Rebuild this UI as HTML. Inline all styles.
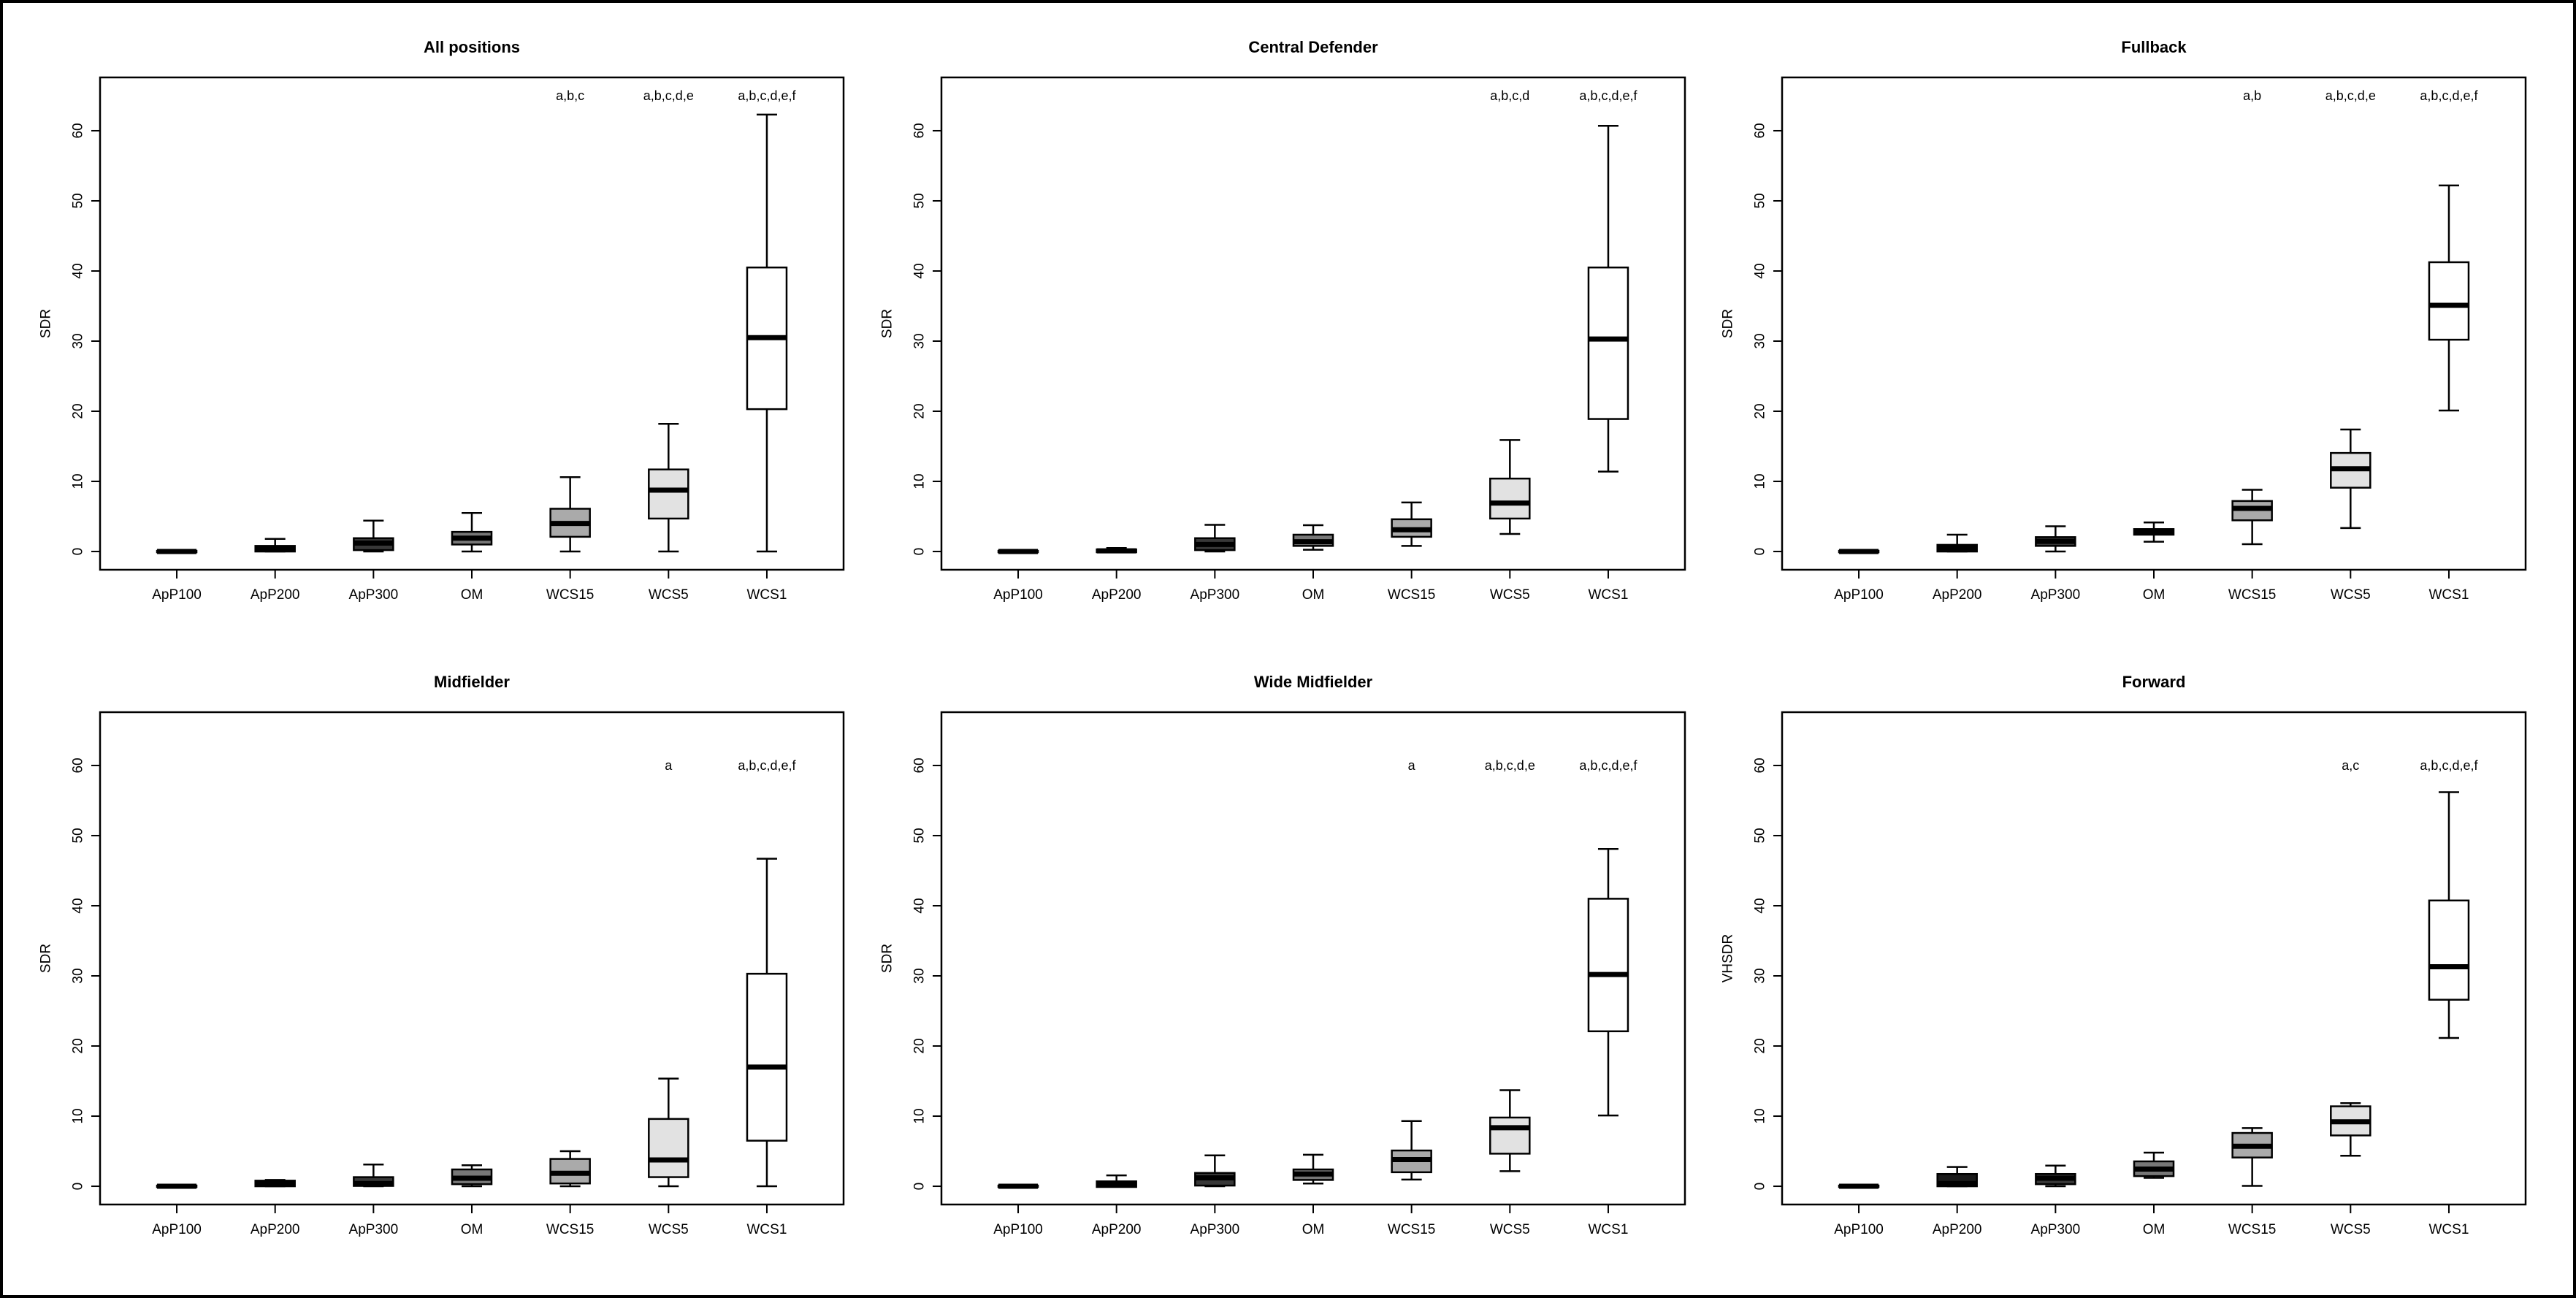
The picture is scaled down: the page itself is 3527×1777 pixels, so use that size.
<!DOCTYPE html>
<html><head><meta charset="utf-8"><style>
html,body{margin:0;padding:0;background:#fff}
svg{display:block}
text{font-family:"Liberation Sans",sans-serif;fill:#000}
</style></head><body>
<svg id="chart" width="3527" height="1777" viewBox="0 0 3527 1777" xmlns="http://www.w3.org/2000/svg">
<rect x="2" y="2" width="3523" height="1773" fill="#fff" stroke="#000" stroke-width="4"/>
</svg>
<script>
const categories = ["ApP100","ApP200","ApP300","OM","WCS15","WCS5","WCS1"];
const panelTitles = ["All positions","Central Defender","Fullback","Midfielder","Wide Midfielder","Forward"];
const yAxisTitles = ["SDR","SDR","SDR","SDR","SDR","VHSDR"];
const yTicks = [0,10,20,30,40,50,60];
const fills = ["#1e1e1e","#1a1a1a","#383838","#777777","#aaaaaa","#e2e2e2","#ffffff"];
// per panel: [low whisker, q1, median, q3, high whisker] per category
const allPositions = [[0,-0.1,0,0.1,0.1],[0,0,0.4,0.8,1.8],[0,0.2,1.2,1.9,4.4],[0,1.0,1.9,2.8,5.5],[0,2.1,4.0,6.1,10.6],[0,4.7,8.75,11.7,18.2],[0,20.3,30.5,40.5,62.3]];
const centralDefender = [[0,-0.1,0,0.1,0.1],[0,-0.1,0.1,0.3,0.5],[0,0.2,1.0,1.9,3.8],[0.25,0.8,1.4,2.4,3.75],[0.8,2.1,3.1,4.6,7.0],[2.5,4.7,6.9,10.4,15.9],[11.4,18.9,30.3,40.5,60.7]];
const fullback = [[0,-0.1,0,0.1,0.1],[0,0,0.5,0.95,2.4],[0,0.8,1.45,2.05,3.6],[1.4,2.4,2.8,3.2,4.15],[1.05,4.45,6.15,7.2,8.8],[3.35,9.1,11.8,14.05,17.4],[20.1,30.2,35.1,41.25,52.2]];
const midfielder = [[0,-0.1,0,0.1,0.1],[0,0,0.4,0.8,0.9],[0,0.05,0.4,1.3,3.1],[0,0.3,1.15,2.4,3.0],[0,0.4,1.85,3.9,5.0],[0,1.3,3.75,9.6,15.35],[0,6.5,17.0,30.3,46.7]];
const wideMidfielder = [[0,-0.1,0,0.1,0.1],[0,-0.1,0.35,0.7,1.55],[0,0.1,1.2,1.9,4.4],[0.4,0.9,1.75,2.4,4.5],[0.95,2.0,3.8,5.1,9.3],[2.15,4.65,8.35,9.8,13.7],[10.1,22.1,30.2,41.0,48.1]];
const forward = [[0,-0.1,0,0.1,0.1],[0,0,0.4,1.75,2.75],[0,0.3,1.15,1.75,2.95],[1.2,1.45,2.45,3.55,4.8],[0.05,4.1,5.7,7.6,8.3],[4.35,7.25,9.2,11.4,11.85],[21.15,26.6,31.3,40.75,56.2]];
const annotations1 = ["","","","","a,b,c","a,b,c,d,e","a,b,c,d,e,f"];
const annotations2 = ["","","","","","a,b,c,d","a,b,c,d,e,f"];
const annotations3 = ["","","","","a,b","a,b,c,d,e","a,b,c,d,e,f"];
const annotations4 = ["","","","","","a","a,b,c,d,e,f"];
const annotations5 = ["","","","","a","a,b,c,d,e","a,b,c,d,e,f"];
const annotations6 = ["","","","","","a,c","a,b,c,d,e,f"];
const annotationLevels = [65,65,65,60,60,60];

const panelData = [allPositions,centralDefender,fullback,midfielder,wideMidfielder,forward];
const panelAnn = [annotations1,annotations2,annotations3,annotations4,annotations5,annotations6];

const svg = document.getElementById('chart');
const NS = 'http://www.w3.org/2000/svg';
function mk(tag, attrs, parent){const e=document.createElementNS(NS,tag);for(const k in attrs)e.setAttribute(k,attrs[k]);(parent||svg).appendChild(e);return e;}

const boxW = 1018, boxH = 674;
const lefts = [137,1289,2440];
const tops = [106,975];
const yMin = -2.6, yMax = 67.6;

panelData.forEach((data, p) => {
  const L = lefts[p%3], T = tops[Math.floor(p/3)], B = T + boxH;
  const g = mk('g', {});
  
  
  const x = i => L + boxW * ((i + 1) - 0.5 + 0.28) / 7.56;
  const y = v => B - (v - yMin) / (yMax - yMin) * boxH;

  const t = mk('text', {x: L + boxW/2, y: T - 34, 'text-anchor':'middle', 'font-size':22, 'font-weight':'bold'}, g);
  t.textContent = panelTitles[p];
  
  

  const ya = mk('g', {}, g);
  
  
  yTicks.forEach(v => {
    mk('line', {x1: L, x2: L-12, y1: y(v), y2: y(v), stroke:'#000', 'stroke-width':2}, ya);
    const tl = mk('text', {x: L-30, y: y(v), 'text-anchor':'middle', 'dominant-baseline':'central', 'font-size':19, transform:`rotate(-90 ${L-30} ${y(v)})`}, ya);
    tl.textContent = v;
    
    
  });
  const cy = (T+B)/2;
  const yt = mk('text', {x: L-74, y: cy, 'text-anchor':'middle', 'dominant-baseline':'central', 'font-size':19, transform:`rotate(-90 ${L-74} ${cy})`}, ya);
  yt.textContent = yAxisTitles[p];
  
  

  data.forEach((d, i) => {
    const cx = x(i), hw = 27, cw = 14;
    const bg = mk('g', {}, g);
    
    
    mk('line', {x1:cx, x2:cx, y1:y(d[0]), y2:y(d[1]), stroke:'#000','stroke-width':2.5}, bg);
    mk('line', {x1:cx, x2:cx, y1:y(d[3]), y2:y(d[4]), stroke:'#000','stroke-width':2.5}, bg);
    mk('line', {x1:cx-cw, x2:cx+cw, y1:y(d[0]), y2:y(d[0]), stroke:'#000','stroke-width':2.5}, bg);
    mk('line', {x1:cx-cw, x2:cx+cw, y1:y(d[4]), y2:y(d[4]), stroke:'#000','stroke-width':2.5}, bg);
    const top = Math.min(y(d[3]), y(d[1])), h = Math.max(Math.abs(y(d[1]) - y(d[3])), 2);
    mk('rect', {x:cx-hw, y:top, width:2*hw, height:h, fill:fills[i], stroke:'#000','stroke-width':2.5}, bg);
    mk('line', {x1:cx-hw, x2:cx+hw, y1:y(d[2]), y2:y(d[2]), stroke:'#000','stroke-width':7}, bg);
    const a = panelAnn[p][i];
    if (a) {
      const at = mk('text', {x:cx, y:y(annotationLevels[p]), 'text-anchor':'middle','dominant-baseline':'central','font-size':18}, bg);
      at.textContent = a;
      
      
    }
  });

  const xa = mk('g', {}, g);
  
  
  categories.forEach((c, i) => {
    mk('line', {x1:x(i), x2:x(i), y1:B, y2:B+12, stroke:'#000','stroke-width':2}, xa);
    const xl = mk('text', {x:x(i), y:B+40, 'text-anchor':'middle','font-size':19}, xa);
    xl.textContent = c;
    
    
  });

  const frame = mk('rect', {x:L, y:T, width:boxW, height:boxH, fill:'none', stroke:'#000','stroke-width':2.5}, g);
  
  
});
</script>
</body></html>
